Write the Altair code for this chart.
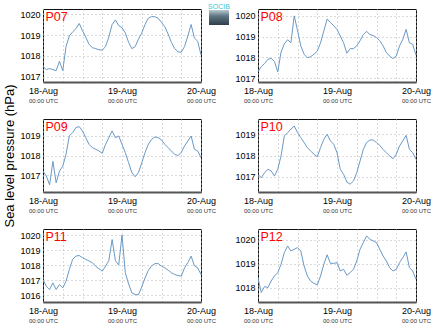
import altair as alt
import pandas as pd

# ---- data (hourly readings from 18-Aug 00:00 UTC to 20-Aug 00:00 UTC) ----
HOURS = list(range(49))
PANELS = ["P07", "P08", "P09", "P10", "P11", "P12"]

P07 = [1017.5, 1017.35, 1017.4, 1017.35, 1017.3, 1017.75, 1017.3, 1018.45, 1018.95, 1019.15,
       1019.3, 1019.55, 1019.2, 1018.9, 1018.55, 1018.4, 1018.35, 1018.3, 1018.28, 1018.45,
       1018.9, 1019.5, 1019.72, 1019.45, 1019.35, 1019.1, 1018.65, 1018.35, 1018.45, 1018.8,
       1019.1, 1019.5, 1019.8, 1019.88, 1019.87, 1019.8, 1019.6, 1019.4, 1019.05, 1018.65,
       1018.35, 1018.2, 1018.18, 1018.45, 1018.95, 1019.5, 1018.85, 1018.7, 1018.05]
P08 = [1017.3, 1017.55, 1017.7, 1017.9, 1017.95, 1017.8, 1017.3, 1018.25, 1018.65, 1018.85,
       1018.7, 1020.0, 1019.3, 1018.55, 1018.15, 1017.98, 1018.03, 1018.15, 1018.3, 1018.7,
       1019.27, 1019.85, 1019.68, 1019.52, 1019.35, 1019.03, 1018.7, 1018.2, 1018.42, 1018.42,
       1018.55, 1018.8, 1019.1, 1019.25, 1019.1, 1019.05, 1018.95, 1018.8, 1018.55, 1018.23,
       1018.06, 1017.94, 1018.06, 1018.55, 1018.87, 1019.35, 1018.7, 1018.63, 1018.1]
P09 = [1017.2, 1016.95, 1016.5, 1017.7, 1016.6, 1017.2, 1017.45, 1018.06, 1019.0, 1019.17,
       1019.43, 1019.48, 1019.26, 1018.91, 1018.57, 1018.4, 1018.32, 1018.23, 1018.11, 1018.57,
       1018.91, 1019.26, 1018.91, 1019.0, 1018.57, 1018.15, 1017.63, 1017.12, 1016.91, 1017.12,
       1017.63, 1018.15, 1018.57, 1018.83, 1018.95, 1018.91, 1018.8, 1018.57, 1018.4, 1018.23,
       1018.06, 1018.0, 1018.15, 1018.49, 1018.74, 1019.0, 1018.32, 1018.23, 1017.89]
P10 = [1017.11, 1016.95, 1017.19, 1017.35, 1017.27, 1017.03, 1017.35, 1017.98, 1018.92, 1019.08,
       1019.24, 1019.39, 1019.08, 1018.84, 1018.61, 1018.37, 1018.21, 1018.06, 1017.94, 1018.37,
       1018.76, 1019.0, 1018.69, 1018.53, 1018.13, 1017.35, 1017.11, 1016.75, 1016.65, 1016.8,
       1017.19, 1017.74, 1018.29, 1018.61, 1018.73, 1018.73, 1018.61, 1018.48, 1018.29, 1018.13,
       1017.98, 1017.85, 1018.06, 1018.45, 1018.69, 1018.95, 1018.29, 1018.13, 1017.82]
P11 = [1017.04, 1016.6, 1016.38, 1016.82, 1016.38, 1016.71, 1016.49, 1016.93, 1017.71, 1018.38,
       1018.6, 1018.64, 1018.49, 1018.38, 1018.27, 1018.16, 1017.93, 1017.76, 1017.6, 1017.93,
       1018.3, 1019.7, 1018.3, 1018.0, 1020.0, 1017.5, 1016.75, 1016.16, 1016.04, 1016.04,
       1016.55, 1017.15, 1017.65, 1017.95, 1018.1, 1018.1, 1017.93, 1017.82, 1017.67, 1017.49,
       1017.38, 1017.31, 1017.27, 1017.82, 1018.16, 1018.6, 1017.95, 1017.82, 1017.38]
P12 = [1018.4, 1017.8, 1018.05, 1018.0, 1018.28, 1018.49, 1018.63, 1018.98, 1019.47, 1019.75,
       1019.54, 1019.61, 1019.68, 1019.54, 1018.91, 1018.49, 1018.28, 1018.18, 1018.12, 1018.49,
       1018.98, 1019.38, 1019.02, 1019.02, 1019.05, 1018.7, 1018.77, 1018.52, 1018.63, 1018.77,
       1019.12, 1019.61, 1019.89, 1020.17, 1020.03, 1019.96, 1019.89, 1019.61, 1019.33, 1019.12,
       1018.84, 1018.7, 1018.77, 1019.05, 1019.26, 1019.5, 1018.84, 1018.7, 1018.35]
SERIES = [P07, P08, P09, P10, P11, P12]

Y_DOMAINS = [[1016.76, 1020.24], [1016.81, 1020.33], [1016.13, 1019.87],
             [1016.28, 1019.72], [1015.55, 1020.4], [1017.4, 1020.46]]
Y_TICKS = [[1017, 1018, 1019, 1020], [1017, 1018, 1019, 1020], [1017, 1018, 1019],
           [1017, 1018, 1019], [1016, 1017, 1018, 1019, 1020], [1018, 1019, 1020]]
GRID_HOURS = [0, 6, 12, 18, 24, 30, 36, 42, 48]
DAY_HOURS = [0, 24, 48]
DAY_LABELS = ["18-Aug", "19-Aug", "20-Aug"]
TIME_LABEL = "00:00 UTC"
Y_TITLE = "Sea level pressure (hPa)"
LOGO_TEXT = "SOCIB"

FONT = "Liberation Sans"
W, H = 158, 73
LINE_COLOR = "#6a99c6"
GRID_COLOR = "#b4b4b4"
GRID_DASH = [1, 3]

day_expr = ("datum.value % 24 == 0 ? [" + ",".join("'%s'" % d for d in DAY_LABELS)
            + "][datum.value / 24] : ''")


def panel(i):
    df = pd.DataFrame({"h": HOURS, "p": SERIES[i]})
    xsc = alt.Scale(domain=[0, 48], nice=False, zero=False)
    ysc = alt.Scale(domain=Y_DOMAINS[i], nice=False, zero=False)
    line = alt.Chart(df).mark_line(color=LINE_COLOR, strokeWidth=1, clip=True).encode(
        x=alt.X("h:Q", scale=xsc, axis=alt.Axis(
            orient="bottom", values=GRID_HOURS, labelExpr=day_expr, title=None, grid=True,
            gridColor=GRID_COLOR, gridDash=GRID_DASH, ticks=False, domain=True,
            domainColor="#555555", domainWidth=2, labelFontSize=9, labelColor="#000",
            labelPadding=4, labelFlush=False, labelOverlap=False, labelFont=FONT)),
        y=alt.Y("p:Q", scale=ysc, axis=alt.Axis(
            values=Y_TICKS[i], format="d", title=None, grid=True, gridColor=GRID_COLOR,
            gridDash=GRID_DASH, ticks=False, domain=False, labelFontSize=9,
            labelColor="#000", labelPadding=3, labelFont=FONT)),
    )
    tdf = pd.DataFrame({"h": DAY_HOURS})
    utc = alt.Chart(tdf).mark_point(opacity=0).encode(
        x=alt.X("h:Q", scale=xsc, axis=alt.Axis(
            orient="bottom", values=DAY_HOURS, labelExpr="'%s'" % TIME_LABEL, title=None,
            grid=False, ticks=False, domain=False, labelFontSize=6, labelColor="#333",
            labelPadding=15, labelFlush=False, labelOverlap=False, labelFont=FONT)),
    )
    ndf = pd.DataFrame({"name": [PANELS[i]]})
    name = alt.Chart(ndf).mark_text(
        align="left", baseline="top", color="#ff0000", fontSize=12.5, font=FONT
    ).encode(text="name:N", x=alt.value(2.5), y=alt.value(2))
    layers = [line, utc, name]
    if i == 2:
        tt = pd.DataFrame({"t": [Y_TITLE]})
        layers.append(alt.Chart(tt).mark_text(
            angle=270, align="center", baseline="middle", fontSize=13, font=FONT,
            color="#000").encode(text="t:N", x=alt.value(-33), y=alt.value(37)))
    if i == 0:
        lg = pd.DataFrame({"t": [LOGO_TEXT]})
        grad = alt.Gradient(gradient="linear", x1=0, x2=0, y1=0, y2=1, stops=[
            alt.GradientStop(color="#b9cbd3", offset=0),
            alt.GradientStop(color="#5f7683", offset=0.4),
            alt.GradientStop(color="#2f3f4b", offset=1)])
        layers.append(alt.Chart(lg).mark_rect(fill=grad).encode(
            x=alt.value(166), x2=alt.value(186), y=alt.value(1), y2=alt.value(16)))
        layers.append(alt.Chart(lg).mark_text(
            align="center", baseline="top", fontSize=7, font=FONT, color="#3cc3d3"
        ).encode(text="t:N", x=alt.value(176), y=alt.value(-6)))
    return alt.layer(*layers).resolve_scale(x="shared").resolve_axis(x="independent").properties(
        width=W, height=H)


chart = alt.concat(*[panel(i) for i in range(6)], columns=2, bounds="flush",
                   spacing={"row": 37, "column": 57}).configure_view(
    stroke="#111111", strokeWidth=1).properties(
    padding={"left": 3, "top": 2, "right": 0, "bottom": 0}, background="white")

chart.save("out.html", embed_options={"renderer": "svg", "actions": False})
